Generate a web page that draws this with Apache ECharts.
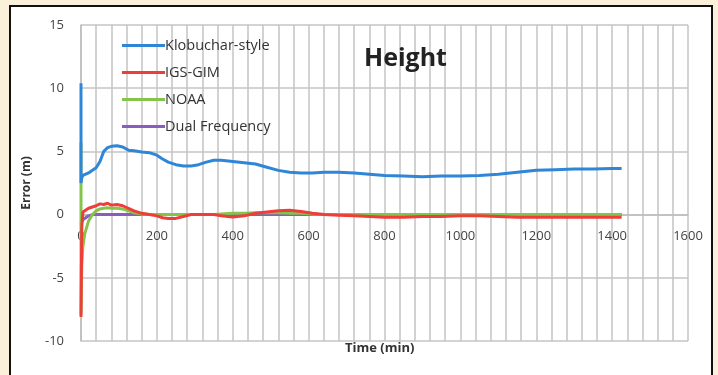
<!DOCTYPE html>
<html>
<head>
<meta charset="utf-8">
<style>
  html, body { margin: 0; padding: 0; background: #fbf0da; }
  #chart { width: 718px; height: 375px; }
</style>
<script src="https://cdn.jsdelivr.net/npm/echarts@6/dist/echarts.min.js"></script>
</head>
<body>
<div id="chart"></div>
<script>
// Sample times (min); t = 0 appears twice to draw the initial jump
const timeMin = [0, 0, 2, 5, 10, 20, 30, 40, 50, 60, 70, 80, 95, 110, 125, 140, 160, 180, 200, 215, 230, 250, 270, 290, 310, 330, 350, 370, 400, 430, 460, 490, 520, 550, 580, 610, 640, 680, 720, 760, 800, 850, 900, 950, 1000, 1050, 1100, 1150, 1200, 1250, 1300, 1350, 1400, 1425];

// Height error (m) for each model
const klobuchar = [10.4, 2.5, 2.9, 3.1, 3.2, 3.3, 3.5, 3.7, 4.2, 5.0, 5.3, 5.4, 5.45, 5.35, 5.1, 5.05, 4.95, 4.9, 4.7, 4.4, 4.15, 3.95, 3.85, 3.85, 3.95, 4.15, 4.3, 4.3, 4.2, 4.1, 4.0, 3.75, 3.5, 3.35, 3.3, 3.3, 3.35, 3.35, 3.3, 3.2, 3.1, 3.05, 3.0, 3.05, 3.05, 3.1, 3.2, 3.35, 3.5, 3.55, 3.6, 3.6, 3.65, 3.65];
const igsGim   = [-8.1, -8.1, -1.0, 0.2, 0.3, 0.5, 0.6, 0.7, 0.85, 0.8, 0.9, 0.75, 0.8, 0.7, 0.5, 0.3, 0.1, 0.0, -0.1, -0.25, -0.3, -0.3, -0.15, 0.0, 0.0, 0.0, 0.0, -0.1, -0.2, -0.1, 0.1, 0.2, 0.3, 0.35, 0.25, 0.1, 0.0, -0.05, -0.1, -0.15, -0.2, -0.2, -0.15, -0.15, -0.1, -0.1, -0.15, -0.2, -0.2, -0.2, -0.2, -0.2, -0.2, -0.2];
const noaa     = [5.7, -7.9, -4.0, -2.5, -1.5, -0.5, 0.0, 0.3, 0.45, 0.5, 0.55, 0.5, 0.5, 0.45, 0.3, 0.15, 0.05, 0.0, 0.0, 0.0, 0.0, 0.0, 0.0, 0.0, 0.0, 0.0, 0.0, 0.05, 0.1, 0.1, 0.15, 0.15, 0.15, 0.1, 0.1, 0.05, 0.0, 0.0, 0.0, 0.0, 0.0, 0.0, 0.0, 0.0, 0.0, 0.0, 0.0, 0.0, 0.0, 0.0, 0.0, 0.0, 0.0, 0.0];
const dualFreq = [-0.8, -0.8, -0.6, -0.4, -0.25, -0.1, 0.0, 0.0, 0.0, 0.0, 0.0, 0.0, 0.0, 0.0, 0.0, 0.0, 0.0, 0.0, 0.0, 0.0, 0.0, 0.0, 0.0, 0.0, 0.0, 0.0, 0.0, 0.0, 0.0, 0.0, 0.0, 0.0, 0.0, 0.0, 0.0, 0.0, 0.0, 0.0, 0.0, 0.0, 0.0, 0.0, 0.0, 0.0, 0.0, 0.0, 0.0, 0.0, 0.0, 0.0, 0.0, 0.0, 0.0, 0.0];

const seriesNames = ['Klobuchar-style', 'IGS-GIM', 'NOAA', 'Dual Frequency'];
const seriesColors = ['#2f86d6', '#ee3e3a', '#84c44a', '#8a5cc0'];
const seriesValues = [klobuchar, igsGim, noaa, dualFreq];

const pairs = vals => timeMin.map((t, i) => [t, vals[i]]);

const Y_MIN = -10, Y_MAX = 15;
const GRID = { left: 81, right: 30, top: 25, bottom: 34 };
const plotHeight = 375 - GRID.top - GRID.bottom;
// Horizontal axis crosses the vertical one at zero
const xAxisLift = -plotHeight * (0 - Y_MIN) / (Y_MAX - Y_MIN);

const chart = echarts.init(document.getElementById('chart'));
const font = '"Open Sans", "Liberation Sans", sans-serif';

chart.setOption({
  animation: false,
  backgroundColor: '#fbf0da',
  textStyle: { fontFamily: font },
  graphic: [
    {
      type: 'rect', z: -10,
      shape: { x: 10, y: 6, width: 702, height: 380 },
      style: { fill: '#ffffff', stroke: '#111111', lineWidth: 2 }
    },
    {
      type: 'text', left: 345, top: 342,
      style: { text: 'Time (min)', font: 'bold 13px ' + font, fill: '#333' }
    }
  ],
  title: {
    text: 'Height', left: 359, top: 41,
    textStyle: { fontSize: 25, fontWeight: 'bold', color: '#222', fontFamily: font }
  },
  legend: {
    orient: 'vertical', left: 117, top: 33,
    itemWidth: 43, itemHeight: 3, itemGap: 12,
    icon: 'rect',
    textStyle: { fontSize: 14.5, color: '#333', fontFamily: font, padding: [0, 0, 0, -5] },
    data: seriesNames
  },
  grid: GRID,
  xAxis: {
    type: 'value', min: 0, max: 1600, interval: 200,
    offset: xAxisLift,
    axisLine: { onZero: false, lineStyle: { color: '#bdbdbd', width: 1.5 } },
    axisTick: { show: false },
    axisLabel: { color: '#444', fontSize: 13, margin: 15, formatter: v => String(v) },
    splitLine: { show: true, lineStyle: { color: '#c4c4c4', width: 1.5 } },
    minorTick: { show: false, splitNumber: 5 },
    minorSplitLine: { show: true, lineStyle: { color: '#c4c4c4', width: 1.5 } }
  },
  yAxis: {
    type: 'value', min: Y_MIN, max: Y_MAX, interval: 5,
    name: 'Error (m)', nameLocation: 'middle', nameGap: 48,
    nameTextStyle: { fontSize: 12, fontWeight: 'bold', color: '#333' },
    axisLine: { show: true, lineStyle: { color: '#bdbdbd', width: 1.5 } },
    axisTick: { show: false },
    axisLabel: { color: '#444', fontSize: 13, margin: 17 },
    splitLine: { show: true, lineStyle: { color: '#c4c4c4', width: 1.5 } }
  },
  series: seriesNames.map((name, i) => ({
    name,
    type: 'line',
    data: pairs(seriesValues[i]),
    showSymbol: false,
    symbol: 'none',
    color: seriesColors[i],
    lineStyle: { width: 3, color: seriesColors[i] },
    z: 10 - i
  })).reverse()
});
</script>
</body>
</html>
